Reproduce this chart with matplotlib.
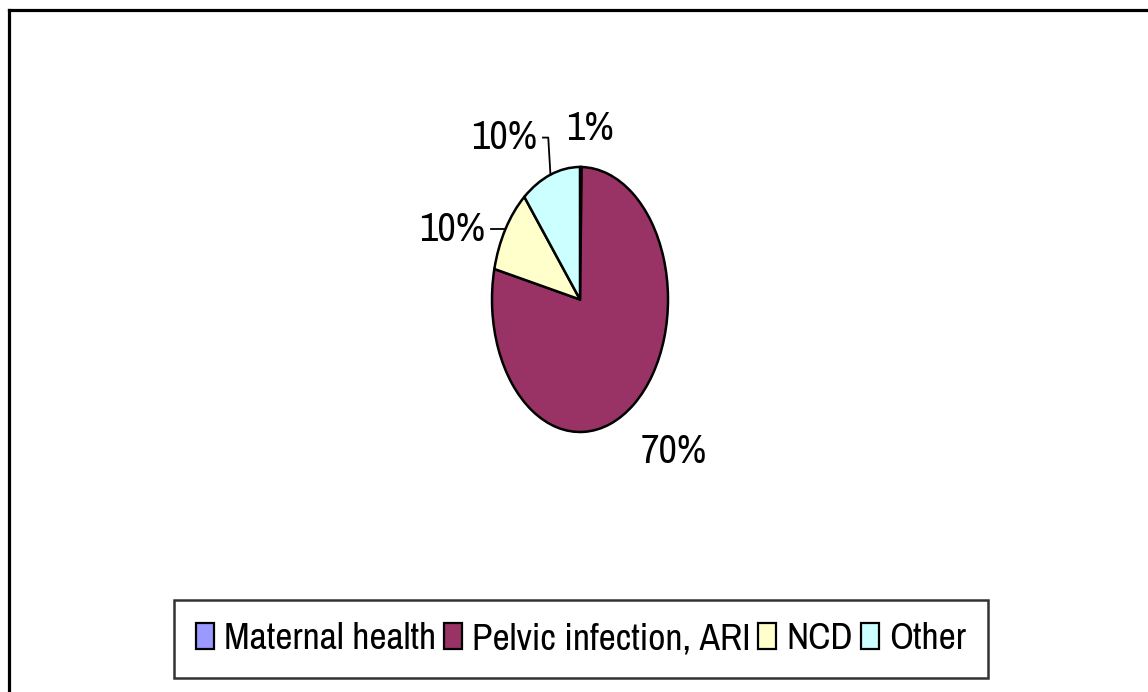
import numpy as np
import matplotlib.pyplot as plt
from matplotlib.patches import Patch

# --------------------------------------------------
# Data (slice sizes estimated from the drawn angles,
# labels as printed on the chart)
# --------------------------------------------------

categories = ["Maternal health", "Pelvic infection, ARI", "NCD", "Other"]
slice_sizes = [0.3, 78.4, 10.4, 10.9]
slice_labels = ["1%", "70%", "10%", "10%"]
colors = ["#9999FF", "#993366", "#FFFFCC", "#CCFFFF"]

# label placement relative to the wedge rim point (style only)
label_offsets = [(0.10, 0.29), (0.45, -0.36), (-0.23, 0.0), (-0.155, 0.28)]
label_align = ["center", "center", "right", "right"]
leader = [False, False, True, True]

font = ["Archivo Narrow", "Liberation Sans", "DejaVu Sans"]

# --------------------------------------------------
# Figure
# --------------------------------------------------

fig = plt.figure(figsize=(11.48, 6.92), dpi=100)
W, H = 1148, 692

# outer chart border (only top and left edges are inside the crop)
fig.add_artist(plt.Line2D([9 / W, 9 / W], [0, 1 - 9.5 / H], transform=fig.transFigure,
                          color="black", lw=2.3))
fig.add_artist(plt.Line2D([9 / W, 1], [1 - 9.5 / H, 1 - 9.5 / H], transform=fig.transFigure,
                          color="black", lw=2.3))

# pie axes (stretched so the pie is drawn as an ellipse)
cx, cy, rx, ry = 580, 299.5, 88, 132.5
ax = fig.add_axes([(cx - rx) / W, 1 - (cy + ry) / H, 2 * rx / W, 2 * ry / H])

wedges, _ = ax.pie(
    slice_sizes,
    colors=colors,
    startangle=90,
    counterclock=False,
    wedgeprops=dict(edgecolor="black", linewidth=1.8),
)
ax.set_aspect("auto")
ax.set_xlim(-1, 1)
ax.set_ylim(-1, 1)

for w, lab, off, ha, lead in zip(wedges, slice_labels, label_offsets, label_align, leader):
    mid = np.deg2rad((w.theta1 + w.theta2) / 2)
    rim = np.array([np.cos(mid), np.sin(mid)])
    pos = rim + np.array(off)
    if lead:
        kink = np.array([pos[0] + 0.13, pos[1]])
        ax.plot([rim[0], kink[0], pos[0] + 0.07], [rim[1], kink[1], kink[1]],
                color="black", lw=1.3, clip_on=False)
    ax.text(pos[0], pos[1], lab, ha=ha, va="center", fontsize=29,
            family=font, clip_on=False)

# --------------------------------------------------
# Legend
# --------------------------------------------------

handles = [Patch(facecolor=c, edgecolor="black", linewidth=1.6) for c in colors]
leg = fig.legend(
    handles,
    categories,
    loc="center",
    bbox_to_anchor=(581 / W, 1 - 638.5 / H),
    ncol=4,
    frameon=True,
    fancybox=False,
    prop=dict(family=font, size=27),
    handlelength=0.48,
    handleheight=0.72,
    handletextpad=0.27,
    columnspacing=0.2,
    borderpad=0.6,
    borderaxespad=0,
)
leg.get_frame().set_edgecolor("black")
leg.get_frame().set_linewidth(1.8)

fig.savefig("out.png", dpi=100)
